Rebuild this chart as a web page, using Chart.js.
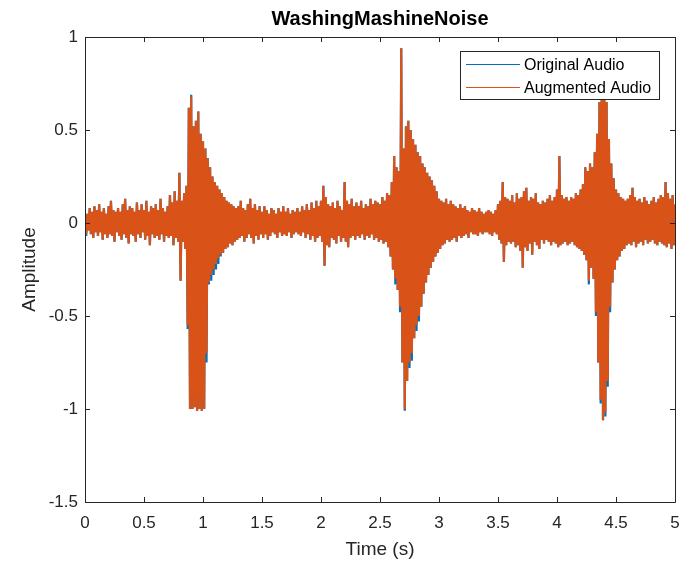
<!DOCTYPE html>
<html>
<head>
<meta charset="utf-8">
<script src="https://cdn.jsdelivr.net/npm/chart.js@4.4.1/dist/chart.umd.min.js"></script>
<style>
  body { margin: 0; background: #fff; }
  #wrap { width: 680px; height: 561px; }
</style>
</head>
<body>
<div id="wrap"><canvas id="audio_chart" width="680" height="561"></canvas></div>
<script>
// seconds between plotted samples
const sampleStep = 0.01;

const timeTicks = [0, 0.5, 1, 1.5, 2, 2.5, 3, 3.5, 4, 4.5, 5];
const amplitudeTicks = [-1.5, -1, -0.5, 0, 0.5, 1];

// one row per 0.1 s
const originalAudio = [
    0.02,-0.07,0.05,-0.04,0.08,-0.06,0.06,-0.08,0.09,-0.05,
    0.07,-0.07,0.10,-0.05,0.06,-0.09,0.08,-0.06,0.05,-0.08,
    0.09,-0.06,0.12,-0.07,0.07,-0.10,0.06,-0.05,0.08,-0.07,
    0.06,-0.09,0.10,-0.06,0.13,-0.08,0.07,-0.11,0.09,-0.06,
    0.08,-0.07,0.06,-0.10,0.11,-0.06,0.07,-0.08,0.10,-0.05,
    0.07,-0.09,0.12,-0.07,0.06,-0.12,0.09,-0.06,0.08,-0.08,
    0.10,-0.07,0.07,-0.09,0.13,-0.06,0.08,-0.10,0.06,-0.07,
    0.09,-0.08,0.15,-0.07,0.11,-0.12,0.17,-0.08,0.12,-0.10,
    0.27,-0.31,0.12,-0.10,0.16,-0.14,0.20,-0.57,0.62,-1.00,
    0.69,-1.00,0.52,-0.99,0.55,-1.01,0.60,-1.00,0.48,-1.01,
    0.44,-1.00,0.40,-0.75,0.35,-0.33,0.30,-0.31,0.25,-0.28,
    0.22,-0.25,0.20,-0.22,0.18,-0.18,0.16,-0.16,0.14,-0.14,
    0.12,-0.13,0.11,-0.11,0.10,-0.12,0.09,-0.10,0.08,-0.09,
    0.09,-0.08,0.12,-0.07,0.08,-0.10,0.07,-0.08,0.10,-0.06,
    0.13,-0.08,0.08,-0.11,0.10,-0.07,0.07,-0.09,0.09,-0.06,
    0.06,-0.08,0.09,-0.06,0.07,-0.09,0.05,-0.07,0.08,-0.05,
    0.07,-0.06,0.05,-0.08,0.08,-0.05,0.06,-0.07,0.09,-0.06,
    0.06,-0.07,0.08,-0.05,0.05,-0.08,0.07,-0.06,0.06,-0.05,
    0.08,-0.06,0.06,-0.07,0.09,-0.05,0.07,-0.08,0.10,-0.06,
    0.07,-0.09,0.11,-0.07,0.08,-0.10,0.12,-0.08,0.09,-0.07,
    0.12,-0.10,0.20,-0.23,0.14,-0.12,0.10,-0.13,0.09,-0.08,
    0.11,-0.09,0.08,-0.11,0.12,-0.07,0.09,-0.10,0.07,-0.08,
    0.22,-0.10,0.12,-0.13,0.10,-0.08,0.13,-0.07,0.09,-0.09,
    0.11,-0.07,0.09,-0.08,0.12,-0.06,0.08,-0.09,0.10,-0.07,
    0.09,-0.08,0.13,-0.06,0.10,-0.09,0.12,-0.08,0.11,-0.10,
    0.10,-0.09,0.14,-0.11,0.12,-0.10,0.16,-0.13,0.15,-0.18,
    0.22,-0.25,0.36,-0.33,0.30,-0.36,0.28,-0.48,0.94,-0.75,
    0.40,-1.01,0.52,-0.85,0.55,-0.78,0.50,-0.74,0.45,-0.62,
    0.42,-0.58,0.38,-0.53,0.36,-0.45,0.32,-0.38,0.30,-0.32,
    0.27,-0.28,0.25,-0.24,0.23,-0.21,0.20,-0.18,0.17,-0.16,
    0.13,-0.14,0.12,-0.12,0.11,-0.11,0.13,-0.09,0.10,-0.10,
    0.12,-0.09,0.10,-0.08,0.09,-0.10,0.08,-0.07,0.10,-0.08,
    0.08,-0.07,0.09,-0.06,0.07,-0.08,0.06,-0.05,0.08,-0.06,
    0.07,-0.06,0.06,-0.07,0.08,-0.05,0.06,-0.06,0.05,-0.05,
    0.06,-0.05,0.07,-0.06,0.06,-0.07,0.05,-0.05,0.07,-0.06,
    0.10,-0.09,0.12,-0.11,0.22,-0.21,0.14,-0.12,0.13,-0.10,
    0.12,-0.11,0.15,-0.10,0.11,-0.13,0.16,-0.12,0.13,-0.15,
    0.14,-0.24,0.17,-0.13,0.19,-0.15,0.12,-0.11,0.14,-0.17,
    0.13,-0.10,0.16,-0.12,0.11,-0.14,0.10,-0.09,0.12,-0.11,
    0.11,-0.09,0.13,-0.10,0.15,-0.12,0.12,-0.10,0.14,-0.11,
    0.18,-0.13,0.36,-0.12,0.15,-0.11,0.13,-0.10,0.14,-0.12,
    0.12,-0.11,0.14,-0.10,0.13,-0.12,0.16,-0.13,0.15,-0.14,
    0.18,-0.15,0.21,-0.17,0.30,-0.20,0.28,-0.33,0.32,-0.24,
    0.30,-0.30,0.38,-0.50,0.48,-0.75,0.65,-0.97,0.80,-1.06,
    0.85,-1.04,0.65,-0.88,0.45,-0.48,0.32,-0.32,0.24,-0.25,
    0.18,-0.20,0.16,-0.18,0.14,-0.15,0.13,-0.14,0.12,-0.12,
    0.13,-0.11,0.15,-0.12,0.19,-0.10,0.14,-0.13,0.12,-0.11,
    0.13,-0.10,0.11,-0.12,0.14,-0.09,0.12,-0.11,0.10,-0.10,
    0.12,-0.09,0.14,-0.11,0.11,-0.12,0.13,-0.10,0.15,-0.11,
    0.14,-0.12,0.22,-0.13,0.16,-0.11,0.13,-0.14,0.15,-0.12,
    0.10
];

const augmentedAudio = [
    0.02,-0.06,0.05,-0.04,0.08,-0.06,0.06,-0.08,0.09,-0.05,
    0.07,-0.07,0.10,-0.05,0.06,-0.09,0.08,-0.06,0.05,-0.08,
    0.09,-0.06,0.12,-0.07,0.07,-0.10,0.06,-0.05,0.08,-0.07,
    0.06,-0.09,0.10,-0.06,0.13,-0.08,0.07,-0.11,0.09,-0.06,
    0.08,-0.07,0.06,-0.10,0.11,-0.06,0.07,-0.08,0.10,-0.05,
    0.07,-0.09,0.12,-0.07,0.06,-0.12,0.09,-0.06,0.08,-0.08,
    0.10,-0.07,0.07,-0.09,0.13,-0.06,0.08,-0.10,0.06,-0.07,
    0.09,-0.08,0.15,-0.07,0.11,-0.12,0.17,-0.08,0.12,-0.10,
    0.27,-0.31,0.12,-0.10,0.16,-0.14,0.20,-0.55,0.62,-1.00,
    0.68,-1.00,0.52,-0.99,0.55,-1.01,0.60,-1.00,0.48,-1.01,
    0.44,-1.00,0.40,-0.70,0.35,-0.32,0.30,-0.28,0.25,-0.25,
    0.22,-0.22,0.20,-0.19,0.18,-0.17,0.16,-0.16,0.14,-0.14,
    0.12,-0.13,0.11,-0.11,0.10,-0.12,0.09,-0.10,0.08,-0.09,
    0.09,-0.08,0.12,-0.07,0.08,-0.10,0.07,-0.08,0.10,-0.06,
    0.13,-0.08,0.08,-0.11,0.10,-0.07,0.07,-0.09,0.09,-0.06,
    0.06,-0.08,0.09,-0.06,0.07,-0.09,0.05,-0.07,0.08,-0.05,
    0.07,-0.06,0.05,-0.08,0.08,-0.05,0.06,-0.07,0.09,-0.06,
    0.06,-0.07,0.08,-0.05,0.05,-0.08,0.07,-0.06,0.06,-0.05,
    0.08,-0.06,0.06,-0.07,0.09,-0.05,0.07,-0.08,0.10,-0.06,
    0.07,-0.09,0.11,-0.07,0.08,-0.10,0.12,-0.08,0.09,-0.07,
    0.12,-0.10,0.20,-0.23,0.14,-0.12,0.10,-0.13,0.09,-0.08,
    0.11,-0.09,0.08,-0.11,0.12,-0.07,0.09,-0.10,0.07,-0.08,
    0.22,-0.10,0.12,-0.13,0.10,-0.08,0.13,-0.07,0.09,-0.09,
    0.11,-0.07,0.09,-0.08,0.12,-0.06,0.08,-0.09,0.10,-0.07,
    0.09,-0.08,0.13,-0.06,0.10,-0.09,0.12,-0.08,0.11,-0.10,
    0.10,-0.09,0.14,-0.11,0.12,-0.10,0.16,-0.13,0.15,-0.18,
    0.22,-0.25,0.36,-0.30,0.30,-0.36,0.28,-0.45,0.94,-0.75,
    0.40,-1.00,0.52,-0.85,0.55,-0.75,0.50,-0.70,0.45,-0.62,
    0.42,-0.55,0.38,-0.50,0.36,-0.45,0.32,-0.38,0.30,-0.32,
    0.27,-0.28,0.25,-0.24,0.23,-0.21,0.20,-0.18,0.17,-0.16,
    0.13,-0.14,0.12,-0.12,0.11,-0.11,0.13,-0.09,0.10,-0.10,
    0.12,-0.09,0.10,-0.08,0.09,-0.10,0.08,-0.07,0.10,-0.08,
    0.08,-0.07,0.09,-0.06,0.07,-0.08,0.06,-0.05,0.08,-0.06,
    0.07,-0.06,0.06,-0.07,0.08,-0.05,0.06,-0.06,0.05,-0.05,
    0.06,-0.05,0.07,-0.06,0.06,-0.07,0.05,-0.05,0.07,-0.06,
    0.10,-0.09,0.12,-0.11,0.22,-0.21,0.14,-0.12,0.13,-0.10,
    0.12,-0.11,0.15,-0.10,0.11,-0.13,0.16,-0.12,0.13,-0.15,
    0.14,-0.24,0.17,-0.13,0.19,-0.15,0.12,-0.11,0.14,-0.17,
    0.13,-0.10,0.16,-0.12,0.11,-0.14,0.10,-0.09,0.12,-0.11,
    0.11,-0.09,0.13,-0.10,0.15,-0.12,0.12,-0.10,0.14,-0.11,
    0.18,-0.13,0.36,-0.12,0.15,-0.11,0.13,-0.10,0.14,-0.12,
    0.12,-0.11,0.14,-0.10,0.13,-0.12,0.16,-0.13,0.15,-0.14,
    0.18,-0.15,0.21,-0.17,0.30,-0.20,0.28,-0.31,0.32,-0.24,
    0.30,-0.30,0.38,-0.48,0.48,-0.75,0.65,-0.95,0.80,-1.06,
    0.85,-1.02,0.65,-0.85,0.45,-0.45,0.32,-0.32,0.24,-0.25,
    0.18,-0.20,0.16,-0.18,0.14,-0.15,0.13,-0.14,0.12,-0.12,
    0.13,-0.11,0.15,-0.12,0.19,-0.10,0.14,-0.13,0.12,-0.11,
    0.13,-0.10,0.11,-0.12,0.14,-0.09,0.12,-0.11,0.10,-0.10,
    0.12,-0.09,0.14,-0.11,0.11,-0.12,0.13,-0.10,0.15,-0.11,
    0.14,-0.12,0.22,-0.13,0.16,-0.11,0.13,-0.14,0.15,-0.12,
    0.10
];

const AXIS_COLOR = '#262626';
const FONT = '"Liberation Sans", Arial, Helvetica, sans-serif';

function toPoints(samples) {
    return samples.map((v, i) => ({ x: i * sampleStep, y: v }));
}

// MATLAB style box with inward ticks on all four sides
const boxAxes = {
    id: 'boxAxes',
    afterDatasetsDraw(chart) {
        const { ctx, chartArea: a, scales } = chart;
        const len = 5;
        ctx.save();
        ctx.strokeStyle = AXIS_COLOR;
        ctx.lineWidth = 1;
        ctx.beginPath();
        ctx.rect(a.left + 0.5, a.top + 0.5, a.right - a.left, a.bottom - a.top);
        scales.x.ticks.forEach(t => {
            const px = Math.round(scales.x.getPixelForValue(t.value)) + 0.5;
            ctx.moveTo(px, a.bottom); ctx.lineTo(px, a.bottom - len);
            ctx.moveTo(px, a.top); ctx.lineTo(px, a.top + len);
        });
        scales.y.ticks.forEach(t => {
            const py = Math.round(scales.y.getPixelForValue(t.value)) + 0.5;
            ctx.moveTo(a.left, py); ctx.lineTo(a.left + len, py);
            ctx.moveTo(a.right, py); ctx.lineTo(a.right - len, py);
        });
        ctx.stroke();
        ctx.restore();
    }
};

// legend box drawn inside the axes, top right
const insideLegend = {
    id: 'insideLegend',
    afterDraw(chart) {
        const ctx = chart.ctx;
        const x0 = 460, y0 = 51, w = 199, h = 48;
        ctx.save();
        ctx.fillStyle = '#ffffff';
        ctx.fillRect(x0, y0, w, h);
        ctx.strokeStyle = AXIS_COLOR;
        ctx.lineWidth = 1;
        ctx.strokeRect(x0 + 0.5, y0 + 0.5, w, h);
        ctx.font = '16px ' + FONT;
        ctx.textBaseline = 'middle';
        chart.data.datasets.forEach((ds, i) => {
            const y = y0 + 13.5 + i * 23;
            ctx.strokeStyle = ds.borderColor;
            ctx.lineWidth = 1.2;
            ctx.beginPath();
            ctx.moveTo(x0 + 6, y);
            ctx.lineTo(x0 + 60, y);
            ctx.stroke();
            ctx.fillStyle = '#000000';
            ctx.fillText(ds.label, x0 + 64, y + 1);
        });
        ctx.restore();
    }
};

new Chart(document.getElementById('audio_chart'), {
    type: 'line',
    data: {
        datasets: [
            {
                label: 'Original Audio',
                data: toPoints(originalAudio),
                borderColor: '#0072BD',
                borderWidth: 2.2,
                order: 1
            },
            {
                label: 'Augmented Audio',
                data: toPoints(augmentedAudio),
                borderColor: '#D95319',
                borderWidth: 2.2,
                order: 0
            }
        ]
    },
    options: {
        responsive: false,
        animation: false,
        events: [],
        layout: { padding: { top: 0, right: 5, bottom: 0, left: 0 } },
        elements: {
            point: { radius: 0 },
            line: { tension: 0, borderJoinStyle: 'bevel' }
        },
        plugins: {
            legend: { display: false },
            tooltip: { enabled: false },
            title: {
                display: true,
                text: 'WashingMashineNoise',
                fullSize: false,
                color: '#000000',
                font: { family: FONT, size: 20, weight: 'bold' },
                padding: { top: 7, bottom: 6 }
            }
        },
        scales: {
            x: {
                type: 'linear',
                min: 0,
                max: 5,
                afterBuildTicks(scale) {
                    scale.ticks = timeTicks.map(v => ({ value: v }));
                },
                afterFit(scale) {
                    scale.height = 59;
                    // the labels at both ends may overhang the box
                    scale.paddingLeft = 0;
                    scale.paddingRight = 0;
                },
                grid: { display: false, drawTicks: false },
                border: { display: false },
                ticks: {
                    color: AXIS_COLOR,
                    font: { family: FONT, size: 17 },
                    padding: 11,
                    maxRotation: 0,
                    autoSkip: false,
                    callback: v => String(v)
                },
                title: {
                    display: true,
                    text: 'Time (s)',
                    color: AXIS_COLOR,
                    font: { family: FONT, size: 19 },
                    padding: { top: 2, bottom: 0 }
                }
            },
            y: {
                type: 'linear',
                min: -1.5,
                max: 1,
                afterBuildTicks(scale) {
                    scale.ticks = amplitudeTicks.map(v => ({ value: v }));
                },
                afterFit(scale) { scale.width = 85; },
                grid: { display: false, drawTicks: false },
                border: { display: false },
                ticks: {
                    color: AXIS_COLOR,
                    font: { family: FONT, size: 17 },
                    padding: 7,
                    autoSkip: false,
                    callback: v => String(v)
                },
                title: {
                    display: true,
                    text: 'Amplitude',
                    color: AXIS_COLOR,
                    font: { family: FONT, size: 19 },
                    padding: { top: 18, bottom: 0 }
                }
            }
        }
    },
    plugins: [boxAxes, insideLegend]
});
</script>
</body>
</html>
